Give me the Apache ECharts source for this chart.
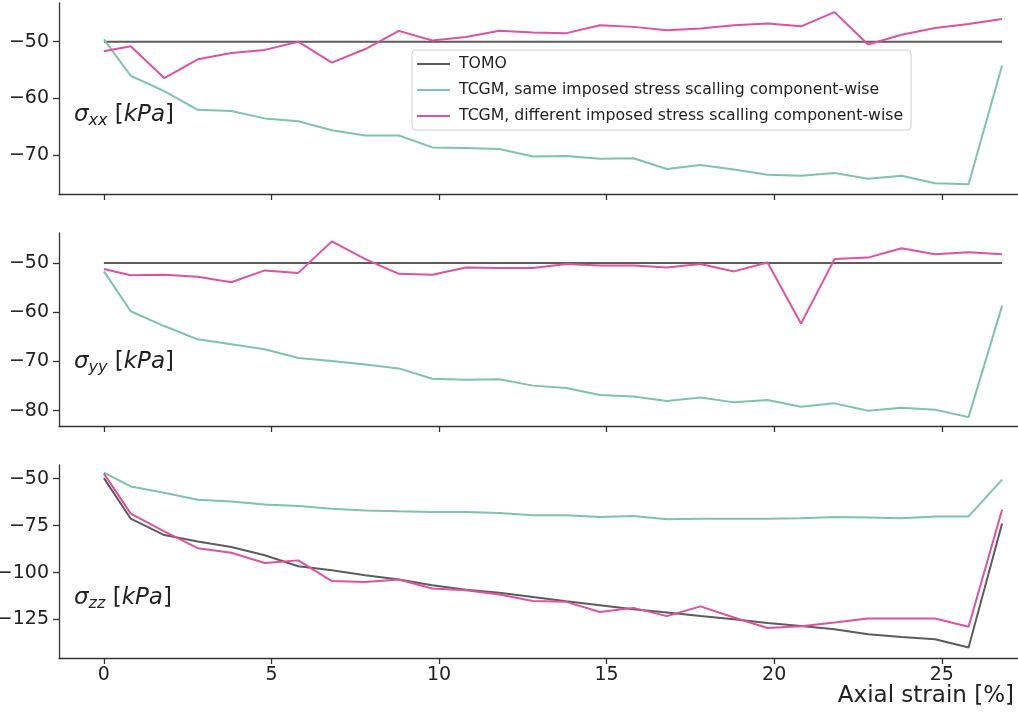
<!DOCTYPE html>
<html>
<head>
<meta charset="utf-8">
<script src="https://cdn.jsdelivr.net/npm/echarts@6/dist/echarts.min.js"></script>
<style>
  html, body { margin: 0; padding: 0; background: #fff; }
  #chart { width: 1018px; height: 715px; }
</style>
</head>
<body>
<div id="chart"></div>
<script>
// axial strain [%]
const strain = [0, 0.8, 1.8, 2.8, 3.8, 4.8, 5.8, 6.8, 7.8, 8.8, 9.8, 10.8, 11.8, 12.8,
  13.8, 14.8, 15.8, 16.8, 17.8, 18.8, 19.8, 20.8, 21.8, 22.8, 23.8, 24.8, 25.8, 26.8]

const seriesNames = ['TOMO', 'TCGM, same imposed stress scalling component-wise',
  'TCGM, different imposed stress scalling component-wise']

// sigma_xx
const xxTomo = [-50, -50, -50, -50, -50, -50, -50, -50, -50, -50, -50, -50, -50, -50,
  -50, -50, -50, -50, -50, -50, -50, -50, -50, -50, -50, -50, -50, -50]
const xxSame = [-49.6, -56.0, -58.7, -62.0, -62.2, -63.5, -64.0, -65.6, -66.5, -66.5, -68.6, -68.7, -68.9, -70.2,
  -70.1, -70.6, -70.5, -72.4, -71.7, -72.5, -73.4, -73.6, -73.1, -74.1, -73.6, -74.9, -75.1, -54.2]
const xxDiff = [-51.7, -50.8, -56.4, -53.1, -52.0, -51.45, -50.0, -53.7, -51.3, -48.1, -49.8, -49.2, -48.1, -48.4,
  -48.5, -47.1, -47.4, -48.0, -47.7, -47.1, -46.8, -47.3, -44.8, -50.5, -48.8, -47.6, -46.9, -46.0]

// sigma_yy
const yyTomo = [-50, -50, -50, -50, -50, -50, -50, -50, -50, -50, -50, -50, -50, -50,
  -50, -50, -50, -50, -50, -50, -50, -50, -50, -50, -50, -50, -50, -50]
const yySame = [-51.7, -59.8, -62.8, -65.5, -66.5, -67.5, -69.3, -69.9, -70.6, -71.4, -73.5, -73.7, -73.6, -74.9,
  -75.4, -76.8, -77.1, -78.0, -77.3, -78.3, -77.8, -79.2, -78.5, -80.0, -79.4, -79.8, -81.3, -58.7]
const yyDiff = [-51.2, -52.5, -52.4, -52.8, -53.9, -51.5, -52.0, -45.6, -49.2, -52.2, -52.4, -50.9, -51.0, -51.0,
  -50.2, -50.5, -50.5, -50.9, -50.2, -51.7, -49.9, -62.3, -49.2, -48.9, -47.0, -48.2, -47.8, -48.2]

// sigma_zz
const zzTomo = [-49.7, -71.3, -80.0, -83.4, -86.4, -90.8, -96.6, -98.8, -101.4, -103.7, -106.8, -109.1, -110.7, -113.0,
  -115.3, -117.4, -119.5, -121.3, -123.1, -124.8, -126.8, -128.4, -130.2, -132.8, -134.3, -135.5, -139.9, -73.9]
const zzSame = [-46.8, -54.1, -57.5, -61.2, -62.1, -63.7, -64.6, -66.0, -66.9, -67.4, -67.8, -67.8, -68.3, -69.5,
  -69.5, -70.4, -69.9, -71.6, -71.3, -71.3, -71.3, -71.0, -70.4, -70.7, -71.0, -70.1, -70.1, -50.5]
const zzDiff = [-47.3, -68.6, -78.0, -87.0, -89.4, -94.9, -93.5, -104.5, -105.0, -103.7, -108.5, -109.4, -111.7, -115.1,
  -115.6, -121.0, -118.8, -123.2, -118.0, -123.9, -129.5, -128.6, -126.6, -124.5, -124.5, -124.5, -128.9, -66.5]

// tick labels
const xTicks = [0, 5, 10, 15, 20, 25]
const xxTicks = [-70, -60, -50]
const yyTicks = [-80, -70, -60, -50]
const zzTicks = [-125, -100, -75, -50]

const colors = ['#5c5c5c', '#7cc5a7', '#e0519f']
const font = 'DejaVu Sans'
const minus = v => String(v).replace('-', '\u2212')

const chart = echarts.init(document.getElementById('chart'))

// plot area runs past the right edge, like the cropped original
const grids = [
  { left: 59, right: -29, top: 3, height: 191, outerBoundsMode: 'none' },
  { left: 59, right: -29, top: 233, height: 193, outerBoundsMode: 'none' },
  { left: 59, right: -29, top: 465, height: 193, outerBoundsMode: 'none' }
]

const makeX = (i) => ({
  type: 'value',
  gridIndex: i,
  min: -1.34,
  max: 28.14,
  splitLine: { show: false },
  axisLine: { onZero: false, lineStyle: { color: '#333', width: 1.3 } },
  axisTick: { show: true, length: 6, customValues: xTicks, lineStyle: { color: '#333', width: 1.3 } },
  axisLabel: {
    show: i === 2, customValues: xTicks, margin: 8,
    fontFamily: font, fontSize: 19, color: '#222', formatter: minus
  }
})

const makeY = (i, min, max, ticks) => ({
  type: 'value',
  gridIndex: i,
  min: min,
  max: max,
  splitLine: { show: false },
  axisLine: { show: true, onZero: false, lineStyle: { color: '#333', width: 1.3 } },
  axisTick: { show: true, length: 6, customValues: ticks, lineStyle: { color: '#333', width: 1.3 } },
  axisLabel: { customValues: ticks, margin: 10, fontFamily: font, fontSize: 19, color: '#222', formatter: minus }
})

const makeSeries = (i, arr, k) => ({
  name: seriesNames[k],
  type: 'line',
  xAxisIndex: i,
  yAxisIndex: i,
  data: strain.map((x, j) => [x, arr[j]]),
  showSymbol: false,
  symbol: 'none',
  z: 2 + k,
  lineStyle: { color: colors[k], width: 2 },
  itemStyle: { color: colors[k] }
})

const sigmaLabel = (sub, top) => ({
  type: 'text',
  left: 74,
  top: top,
  style: {
    text: '{s|σ}{sub|' + sub + '} [{i|kPa}]',
    font: '23px DejaVu Sans',
    fill: '#222',
    rich: {
      s: { fontFamily: font, fontSize: 23, fontStyle: 'italic', fill: '#222' },
      sub: { fontFamily: font, fontSize: 16, fontStyle: 'italic', fill: '#222', padding: [10, 0, 0, 0] },
      i: { fontFamily: font, fontSize: 23, fontStyle: 'italic', fill: '#222' }
    }
  }
})

const option = {
  animation: false,
  backgroundColor: '#fff',
  grid: grids,
  xAxis: [makeX(0), makeX(1), makeX(2)],
  yAxis: [
    makeY(0, -76.8, -43.2, xxTicks),
    makeY(1, -83.1, -43.9, yyTicks),
    makeY(2, -145.5, -42.7, zzTicks)
  ],
  legend: {
    data: seriesNames,
    orient: 'vertical',
    left: 412,
    top: 50,
    padding: [6, 8, 6, 5],
    itemGap: 10,
    itemWidth: 33,
    itemHeight: 2,
    icon: 'rect',
    backgroundColor: 'rgba(255,255,255,0.85)',
    borderColor: '#d0d0d0',
    borderWidth: 1,
    borderRadius: 4,
    textStyle: { fontFamily: font, fontSize: 15.7, color: '#222', lineHeight: 16, padding: [0, 0, 0, 4] }
  },
  series: [
    makeSeries(0, xxTomo, 0), makeSeries(0, xxSame, 1), makeSeries(0, xxDiff, 2),
    makeSeries(1, yyTomo, 0), makeSeries(1, yySame, 1), makeSeries(1, yyDiff, 2),
    makeSeries(2, zzTomo, 0), makeSeries(2, zzSame, 1), makeSeries(2, zzDiff, 2)
  ],
  graphic: [
    sigmaLabel('xx', 104),
    sigmaLabel('yy', 351),
    sigmaLabel('zz', 587),
    {
      type: 'text',
      right: 4,
      top: 685,
      style: { text: 'Axial strain [%]', font: '23px DejaVu Sans', fill: '#222' }
    }
  ]
}

chart.setOption(option)
</script>
</body>
</html>
